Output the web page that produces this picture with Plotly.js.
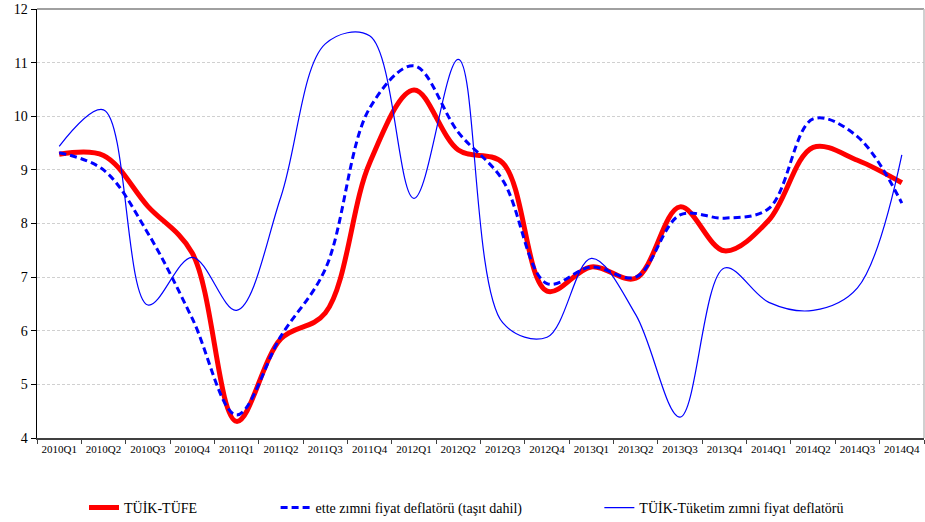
<!DOCTYPE html>
<html>
<head>
<meta charset="utf-8">
<script src="https://cdn.plot.ly/plotly-3.0.1.min.js"></script>
<style>
html,body{margin:0;padding:0;background:#fff;}
#chart{width:925px;height:522px;}
</style>
</head>
<body>
<div id="chart"></div>
<script>
var categories = ["2010Q1","2010Q2","2010Q3","2010Q4","2011Q1","2011Q2","2011Q3","2011Q4","2012Q1","2012Q2","2012Q3","2012Q4","2013Q1","2013Q2","2013Q3","2013Q4","2014Q1","2014Q2","2014Q3","2014Q4"];
var tufe = [9.29, 9.27, 8.32, 7.45, 4.31, 5.85, 6.33, 9.13, 10.49, 9.37, 9.13, 6.74, 7.19, 6.98, 8.31, 7.49, 8.06, 9.42, 9.18, 8.76];
var ettDeflator = [9.32, 9.0, 7.82, 6.23, 4.43, 5.9, 7.15, 10.15, 10.94, 9.7, 8.81, 6.88, 7.19, 7.0, 8.16, 8.1, 8.28, 9.95, 9.62, 8.38];
var tuketimDeflator = [9.44, 10.12, 6.48, 7.37, 6.38, 8.5, 11.35, 11.5, 8.47, 11.06, 6.15, 5.88, 7.35, 6.3, 4.39, 7.17, 6.53, 6.38, 6.8, 9.28];
var seriesNames = ["TÜİK-TÜFE", "ette zımni fiyat deflatörü (taşıt dahil)", "TÜİK-Tüketim zımni fiyat deflatörü"];
var yTicks = [4,5,6,7,8,9,10,11,12];

var serif = "Liberation Serif, Times New Roman, serif";

var traces = [
  {x: categories, y: tufe, name: seriesNames[0], type: "scatter", mode: "lines",
   line: {color: "#FF0000", width: 5, shape: "spline", smoothing: 1}, legend: "legend"},
  {x: categories, y: ettDeflator, name: seriesNames[1], type: "scatter", mode: "lines",
   line: {color: "#0000FF", width: 3, dash: "7px,4px", shape: "spline", smoothing: 1}, legend: "legend2"},
  {x: categories, y: tuketimDeflator, name: seriesNames[2], type: "scatter", mode: "lines",
   line: {color: "#0000FF", width: 1.2, shape: "spline", smoothing: 1}, legend: "legend3"}
];

var legendCommon = {orientation: "h", yanchor: "middle", y: -0.163, xanchor: "left",
  font: {family: serif, size: 14, color: "#000"}, bgcolor: "rgba(0,0,0,0)", itemwidth: 30, tracegroupgap: 0};

var layout = {
  width: 925, height: 522,
  margin: {l: 37, r: 1, t: 9, b: 84, autoexpand: false},
  paper_bgcolor: "#fff", plot_bgcolor: "#fff",
  font: {family: serif, color: "#000"},
  showlegend: true,
  xaxis: {type: "category", range: [-0.5, 19.5], tickson: "boundaries", ticks: "outside", ticklen: 4,
    tickcolor: "#404040", showline: true, linecolor: "#404040", linewidth: 1.5, showgrid: false,
    tickfont: {family: serif, size: 11, color: "#000"}, tickangle: 0, zeroline: false, fixedrange: true},
  yaxis: {range: [4, 12], tickvals: yTicks, ticks: "outside", ticklen: 5, tickcolor: "#000",
    showline: true, linecolor: "#000", linewidth: 1.5, showgrid: true, gridcolor: "#d0d0d0",
    griddash: "3px,2px", gridwidth: 1, zeroline: false,
    tickfont: {family: serif, size: 14, color: "#000"}, fixedrange: true},
  legend: Object.assign({}, legendCommon, {x: 0.053}),
  legend2: Object.assign({}, legendCommon, {x: 0.269}),
  legend3: Object.assign({}, legendCommon, {x: 0.634}),
  shapes: [
    {type: "line", xref: "paper", yref: "paper", x0: 0, x1: 1, y0: 1, y1: 1, line: {color: "#808080", width: 1.5}},
    {type: "line", xref: "paper", yref: "paper", x0: 1, x1: 1, y0: 0, y1: 1, line: {color: "#c0c0c0", width: 1.5}}
  ]
};

Plotly.newPlot("chart", traces, layout, {displayModeBar: false, staticPlot: true});
</script>
</body>
</html>
